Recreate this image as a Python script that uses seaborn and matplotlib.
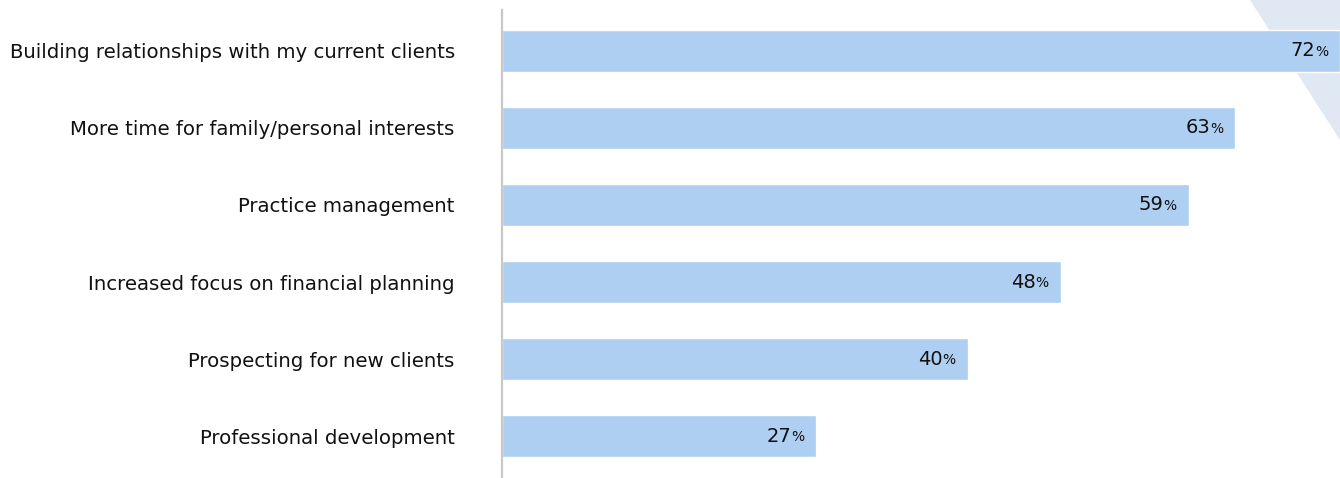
import matplotlib
matplotlib.use("Agg")
import matplotlib.pyplot as plt
from matplotlib.patches import Polygon
import seaborn as sns
import pandas as pd

categories = [
    "Building relationships with my current clients",
    "More time for family/personal interests",
    "Practice management",
    "Increased focus on financial planning",
    "Prospecting for new clients",
    "Professional development",
]
values = [72, 63, 59, 48, 40, 27]

df = pd.DataFrame({"category": categories, "value": values})

sns.set_theme(style="white")
plt.rcParams["font.family"] = ["DejaVu Sans"]

fig = plt.figure(figsize=(13.4, 4.78), dpi=100)

# decorative corner stripe behind the chart
fig.patches.append(Polygon([[1250 / 1340, 1.0], [1.0, 1.0], [1.0, 1 - 140 / 478]],
                           closed=True, transform=fig.transFigure,
                           facecolor="#dfe8f3", edgecolor="none", zorder=0))

ax = fig.add_axes([502 / 1340, 0.0, 1 - 502 / 1340, 468 / 478])
ax.patch.set_alpha(0)
ax.set_zorder(2)

sns.barplot(data=df, x="value", y="category", orient="h", color="#aecff1",
            saturation=1, width=0.545, ax=ax)

ax.set_xlim(0, 72)
ax.set_ylim(5.545, -0.532)
ax.set_xlabel("")
ax.set_ylabel("")
ax.set_xticks([])
ax.tick_params(axis="y", length=0, pad=34, labelsize=14.2, labelcolor="#111111")
for side in ["top", "right", "bottom"]:
    ax.spines[side].set_visible(False)
ax.spines["left"].set_color("#c8c8c8")
ax.spines["left"].set_linewidth(1.6)

for i, v in enumerate(values):
    ax.annotate("%", xy=(v, i), xytext=(-12, -1), textcoords="offset pixels",
                ha="right", va="center", fontsize=10, color="#111111")
    ax.annotate(f"{v}", xy=(v, i), xytext=(-25, 0), textcoords="offset pixels",
                ha="right", va="center", fontsize=14, color="#111111")

fig.savefig("out.png", dpi=100)
